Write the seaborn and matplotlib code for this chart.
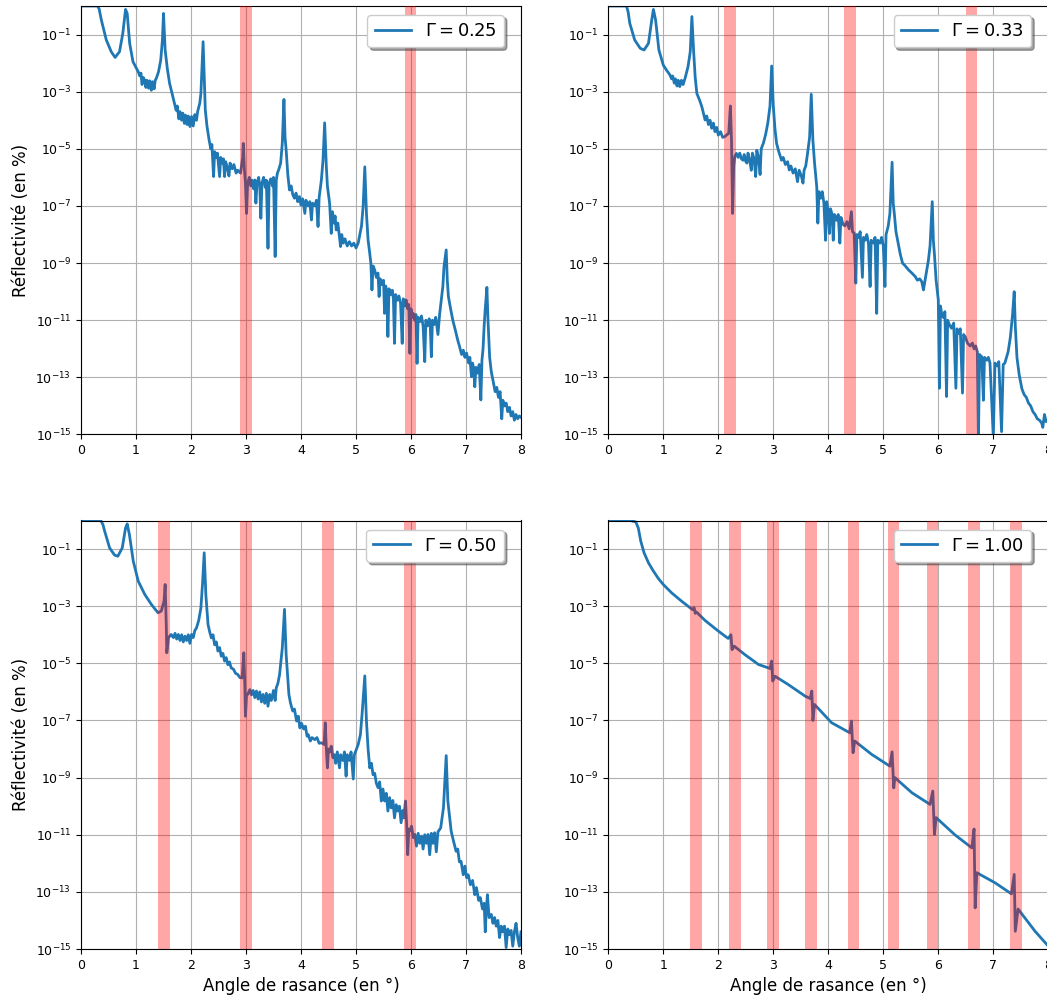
import numpy as np
import pandas as pd
import matplotlib
matplotlib.use("Agg")
import matplotlib.pyplot as plt
import seaborn as sns
from matplotlib.ticker import NullLocator

# Reflectivity curves: (grazing angle in deg, log10 of reflectivity)
GAMMAS = [0.25, 0.33, 0.50, 1.00]

CURVE_025 = [
    (0.00, 0.0), (0.30, 0.0), (0.33, -0.1), (0.37, -0.49), (0.46, -1.19), (0.55, -1.6),
    (0.62, -1.8), (0.70, -1.6), (0.76, -0.96), (0.81, -0.12), (0.84, -0.26), (0.885, -1.31),
    (0.945, -1.95), (1.00, -2.15), (1.04, -2.3), (1.07, -2.45), (1.09, -2.35), (1.11, -2.75),
    (1.13, -2.5), (1.16, -2.6), (1.18, -2.85), (1.20, -2.6), (1.23, -2.88), (1.25, -2.62),
    (1.28, -2.95), (1.30, -2.65), (1.33, -2.9), (1.35, -2.6), (1.37, -2.53), (1.41, -2.3),
    (1.45, -1.89), (1.48, -1.2), (1.50, -0.26), (1.53, -1.54), (1.57, -2.2), (1.61, -2.7),
    (1.66, -3.1), (1.70, -3.41), (1.73, -3.65), (1.75, -3.5), (1.78, -3.95), (1.80, -3.7),
    (1.83, -4.0), (1.85, -3.75), (1.88, -4.11), (1.90, -3.82), (1.93, -4.15), (1.95, -3.85),
    (1.98, -4.22), (2.01, -3.87), (2.04, -4.2), (2.07, -3.8), (2.10, -4.0), (2.12, -3.7),
    (2.16, -3.4), (2.18, -3.06), (2.22, -1.25), (2.26, -3.64), (2.29, -4.2), (2.31, -4.46),
    (2.33, -4.7), (2.36, -5.0), (2.38, -4.85), (2.41, -5.97), (2.43, -5.1), (2.46, -5.3),
    (2.48, -5.15), (2.52, -5.97), (2.54, -5.3), (2.57, -5.5), (2.59, -5.35), (2.61, -5.97),
    (2.63, -5.45), (2.66, -5.65), (2.69, -5.95), (2.71, -5.5), (2.75, -5.7), (2.78, -5.55),
    (2.82, -5.85), (2.85, -5.75), (2.90, -5.85), (2.94, -5.3), (2.95, -4.81), (2.97, -5.7),
    (2.99, -6.2), (3.01, -7.26), (3.03, -6.2), (3.06, -6.0), (3.09, -6.3), (3.11, -6.1),
    (3.14, -6.4), (3.16, -6.09), (3.18, -6.9), (3.20, -6.2), (3.23, -6.0), (3.25, -6.3),
    (3.27, -7.43), (3.29, -6.2), (3.32, -6.0), (3.35, -6.35), (3.37, -6.1), (3.40, -8.48),
    (3.42, -6.2), (3.45, -6.05), (3.48, -6.3), (3.50, -6.0), (3.53, -8.77), (3.55, -6.1),
    (3.57, -5.86), (3.60, -5.7), (3.63, -5.5), (3.66, -4.8), (3.69, -3.27), (3.71, -4.6),
    (3.73, -5.04), (3.76, -5.9), (3.79, -6.44), (3.82, -6.3), (3.85, -6.6), (3.88, -6.73),
    (3.91, -6.55), (3.94, -6.85), (3.97, -6.67), (4.00, -6.97), (4.03, -6.75), (4.07, -7.26),
    (4.09, -6.8), (4.13, -7.0), (4.16, -6.85), (4.19, -7.49), (4.21, -6.9), (4.25, -7.0),
    (4.28, -6.8), (4.31, -7.72), (4.33, -6.7), (4.37, -6.1), (4.40, -5.4), (4.43, -4.09),
    (4.46, -5.6), (4.48, -6.3), (4.52, -6.9), (4.55, -7.96), (4.57, -7.2), (4.60, -7.6),
    (4.62, -7.35), (4.64, -7.84), (4.67, -7.6), (4.70, -8.1), (4.72, -8.42), (4.74, -8.0),
    (4.77, -8.3), (4.80, -8.15), (4.84, -8.4), (4.88, -8.25), (4.92, -8.4), (4.96, -8.3),
    (5.00, -8.47), (5.04, -8.3), (5.07, -8.0), (5.10, -7.7), (5.13, -7.0), (5.16, -5.63),
    (5.19, -7.26), (5.22, -8.2), (5.25, -8.66), (5.27, -9.0), (5.29, -9.94), (5.31, -9.1),
    (5.34, -9.24), (5.37, -9.5), (5.40, -9.35), (5.42, -10.17), (5.44, -9.55), (5.47, -9.75),
    (5.50, -9.6), (5.52, -10.76), (5.54, -9.8), (5.56, -10.0), (5.58, -11.57), (5.60, -9.9),
    (5.63, -10.1), (5.66, -9.95), (5.68, -10.25), (5.70, -11.81), (5.72, -10.1), (5.75, -10.3),
    (5.78, -10.15), (5.81, -10.4), (5.84, -11.81), (5.86, -10.25), (5.89, -10.5), (5.91, -10.29),
    (5.94, -10.6), (5.96, -10.45), (5.98, -12.16), (6.00, -10.6), (6.02, -10.9), (6.04, -10.76),
    (6.07, -11.0), (6.09, -10.8), (6.11, -12.51), (6.13, -10.9), (6.16, -11.05), (6.19, -10.85),
    (6.22, -11.2), (6.25, -12.45), (6.27, -11.0), (6.30, -11.2), (6.33, -10.95), (6.35, -11.2),
    (6.37, -12.28), (6.39, -11.0), (6.42, -11.15), (6.45, -10.9), (6.47, -11.2), (6.49, -11.5),
    (6.52, -10.8), (6.55, -10.3), (6.58, -9.8), (6.60, -9.12), (6.64, -8.54), (6.66, -9.6),
    (6.68, -10.17), (6.72, -10.6), (6.76, -11.0), (6.80, -11.3), (6.85, -11.7), (6.88, -11.9),
    (6.92, -12.2), (6.95, -12.05), (6.98, -12.3), (7.01, -12.15), (7.05, -12.5), (7.07, -12.3),
    (7.10, -12.98), (7.12, -12.5), (7.14, -12.7), (7.16, -13.33), (7.18, -12.65), (7.21, -12.85),
    (7.24, -12.55), (7.27, -13.79), (7.29, -12.4), (7.31, -12.0), (7.33, -11.2), (7.35, -10.6),
    (7.38, -9.85), (7.40, -11.0), (7.43, -12.3), (7.46, -12.8), (7.50, -13.2), (7.53, -13.5),
    (7.56, -13.35), (7.59, -13.7), (7.62, -13.5), (7.65, -14.45), (7.67, -13.8), (7.70, -14.0),
    (7.73, -13.9), (7.76, -14.2), (7.79, -14.05), (7.82, -14.35), (7.85, -14.2), (7.88, -14.5),
    (7.91, -14.3), (7.94, -14.45), (7.97, -14.35), (8.00, -14.4),
]

CURVE_033 = [
    (0.00, 0.0), (0.33, 0.0), (0.36, -0.2), (0.39, -0.6), (0.48, -1.19), (0.58, -1.48),
    (0.65, -1.54), (0.73, -1.31), (0.79, -0.49), (0.82, -0.12), (0.86, -0.49), (0.92, -1.54),
    (1.00, -2.07), (1.06, -2.25), (1.12, -2.41), (1.15, -2.55), (1.17, -2.45), (1.20, -2.7),
    (1.22, -2.55), (1.25, -2.8), (1.27, -2.6), (1.30, -2.82), (1.33, -2.6), (1.36, -2.75),
    (1.40, -2.5), (1.45, -2.12), (1.49, -1.6), (1.52, -0.37), (1.55, -1.54), (1.58, -2.5),
    (1.61, -3.06), (1.66, -3.3), (1.70, -3.52), (1.73, -3.75), (1.76, -3.99), (1.79, -3.85),
    (1.82, -4.15), (1.85, -4.0), (1.88, -4.28), (1.91, -4.1), (1.94, -4.4), (1.97, -4.25),
    (2.00, -4.52), (2.04, -4.4), (2.08, -4.6), (2.12, -4.57), (2.16, -4.5), (2.19, -4.46),
    (2.22, -3.5), (2.24, -4.7), (2.26, -7.26), (2.28, -5.6), (2.30, -5.27), (2.33, -5.16),
    (2.36, -5.3), (2.39, -5.15), (2.42, -5.35), (2.45, -5.4), (2.47, -5.2), (2.50, -5.45),
    (2.52, -5.5), (2.54, -5.15), (2.57, -5.4), (2.60, -5.75), (2.62, -5.15), (2.65, -5.35),
    (2.68, -5.97), (2.70, -5.05), (2.73, -5.3), (2.76, -5.9), (2.78, -5.0), (2.82, -4.8),
    (2.86, -4.5), (2.90, -4.1), (2.94, -3.5), (2.97, -2.1), (3.00, -3.5), (3.03, -4.3),
    (3.06, -4.81), (3.10, -5.1), (3.15, -5.4), (3.18, -5.3), (3.22, -5.55), (3.26, -5.45),
    (3.29, -5.74), (3.32, -5.6), (3.36, -5.85), (3.40, -5.7), (3.44, -6.15), (3.47, -5.75),
    (3.51, -5.95), (3.54, -6.2), (3.56, -5.75), (3.59, -5.6), (3.62, -5.2), (3.66, -4.6),
    (3.69, -3.09), (3.72, -4.7), (3.75, -5.5), (3.79, -6.33), (3.81, -7.6), (3.83, -6.5),
    (3.86, -6.73), (3.89, -6.5), (3.92, -6.9), (3.95, -8.2), (3.97, -6.85), (4.00, -7.2),
    (4.02, -7.96), (4.04, -7.1), (4.07, -7.3), (4.09, -8.2), (4.11, -7.3), (4.15, -7.5),
    (4.18, -7.3), (4.21, -8.3), (4.23, -7.4), (4.27, -7.65), (4.30, -7.7), (4.34, -7.55),
    (4.38, -7.8), (4.42, -7.2), (4.44, -7.9), (4.47, -7.95), (4.50, -9.7), (4.52, -8.0),
    (4.55, -8.1), (4.58, -7.9), (4.62, -9.5), (4.64, -8.1), (4.67, -8.2), (4.70, -8.0),
    (4.73, -8.3), (4.76, -9.82), (4.78, -8.2), (4.82, -8.3), (4.85, -8.1), (4.88, -10.76),
    (4.90, -8.2), (4.94, -8.3), (4.97, -8.1), (5.00, -8.4), (5.03, -9.82), (5.05, -8.0),
    (5.09, -7.7), (5.12, -7.26), (5.16, -5.47), (5.18, -6.9), (5.20, -7.26), (5.23, -7.9),
    (5.27, -8.3), (5.31, -8.7), (5.35, -9.0), (5.40, -9.1), (5.46, -9.24), (5.52, -9.35),
    (5.58, -9.47), (5.62, -9.6), (5.66, -9.55), (5.70, -9.65), (5.73, -9.94), (5.76, -9.6),
    (5.79, -9.24), (5.82, -8.9), (5.85, -8.4), (5.89, -6.85), (5.91, -8.2), (5.93, -8.7),
    (5.96, -9.6), (6.00, -10.29), (6.02, -13.38), (6.04, -10.5), (6.06, -10.76), (6.09, -10.9),
    (6.12, -10.7), (6.15, -13.67), (6.17, -11.0), (6.20, -11.15), (6.24, -11.28), (6.28, -11.1),
    (6.32, -13.38), (6.34, -11.3), (6.37, -11.46), (6.40, -11.3), (6.44, -13.55), (6.46, -11.5),
    (6.49, -11.58), (6.53, -11.8), (6.58, -11.9), (6.62, -11.8), (6.65, -12.0), (6.68, -11.9),
    (6.71, -12.1), (6.73, -15.2), (6.75, -12.2), (6.79, -12.28), (6.82, -13.8), (6.84, -12.3),
    (6.88, -12.4), (6.91, -12.3), (6.94, -12.5), (7.00, -15.1), (7.03, -12.5), (7.07, -12.6),
    (7.10, -12.45), (7.15, -14.9), (7.18, -12.55), (7.21, -12.5), (7.24, -12.3), (7.27, -12.1),
    (7.31, -11.6), (7.35, -10.8), (7.38, -10.0), (7.40, -11.2), (7.43, -12.3), (7.47, -12.9),
    (7.52, -13.4), (7.56, -13.6), (7.60, -13.7), (7.64, -13.9), (7.68, -14.0), (7.72, -14.2),
    (7.76, -14.3), (7.80, -14.45), (7.84, -14.5), (7.88, -14.6), (7.90, -14.75), (7.93, -14.3),
    (7.96, -14.55), (8.00, -14.5),
]

CURVE_050 = [
    (0.00, 0.0), (0.36, 0.0), (0.40, -0.15), (0.43, -0.37), (0.52, -0.96), (0.61, -1.21),
    (0.67, -1.25), (0.75, -0.96), (0.81, -0.26), (0.84, -0.12), (0.88, -0.49), (0.95, -1.42),
    (1.04, -2.12), (1.16, -2.59), (1.28, -2.94), (1.40, -3.23), (1.46, -3.17), (1.51, -2.82),
    (1.53, -2.24), (1.55, -3.64), (1.56, -4.63), (1.59, -4.1), (1.64, -3.99), (1.68, -4.1),
    (1.71, -3.95), (1.74, -4.15), (1.77, -3.99), (1.80, -4.2), (1.83, -4.0), (1.86, -4.25),
    (1.89, -4.05), (1.92, -4.2), (1.95, -4.0), (1.98, -4.3), (2.01, -3.99), (2.04, -4.1),
    (2.07, -3.85), (2.10, -3.76), (2.14, -3.5), (2.18, -3.06), (2.21, -2.2), (2.24, -1.13),
    (2.27, -2.6), (2.31, -3.64), (2.34, -3.9), (2.37, -4.11), (2.40, -4.0), (2.43, -4.35),
    (2.46, -4.25), (2.49, -4.57), (2.52, -4.45), (2.55, -4.75), (2.58, -4.65), (2.61, -4.92),
    (2.64, -4.8), (2.67, -5.05), (2.70, -4.95), (2.73, -5.16), (2.77, -5.2), (2.81, -5.35),
    (2.85, -5.39), (2.89, -5.5), (2.93, -5.51), (2.96, -4.63), (2.98, -5.86), (2.99, -6.85),
    (3.01, -6.1), (3.03, -6.09), (3.07, -5.92), (3.10, -6.1), (3.13, -5.95), (3.16, -6.2),
    (3.19, -5.97), (3.22, -6.25), (3.25, -6.0), (3.28, -6.35), (3.31, -6.09), (3.34, -6.4),
    (3.37, -6.05), (3.40, -6.5), (3.43, -6.09), (3.46, -6.3), (3.50, -5.95), (3.53, -6.3),
    (3.55, -5.86), (3.58, -5.7), (3.61, -5.4), (3.66, -4.46), (3.70, -3.11), (3.73, -4.69),
    (3.78, -6.09), (3.81, -6.4), (3.85, -6.67), (3.88, -6.6), (3.92, -7.02), (3.95, -6.85),
    (3.98, -7.26), (4.01, -7.1), (4.05, -7.3), (4.08, -7.2), (4.11, -7.55), (4.13, -7.49),
    (4.17, -7.72), (4.20, -7.6), (4.25, -7.67), (4.29, -7.6), (4.33, -7.8), (4.37, -7.78),
    (4.42, -7.84), (4.44, -7.08), (4.46, -7.96), (4.48, -8.66), (4.50, -8.0), (4.52, -8.1),
    (4.55, -7.9), (4.58, -8.3), (4.61, -8.2), (4.63, -8.5), (4.66, -8.1), (4.70, -8.66),
    (4.72, -8.2), (4.76, -8.4), (4.79, -8.1), (4.82, -8.95), (4.84, -8.2), (4.88, -8.4),
    (4.91, -8.1), (4.95, -9.05), (4.97, -8.2), (5.01, -8.0), (5.04, -7.84), (5.08, -7.5),
    (5.11, -6.79), (5.16, -5.44), (5.19, -7.02), (5.22, -8.0), (5.25, -8.66), (5.28, -8.5),
    (5.31, -8.9), (5.34, -8.85), (5.37, -9.2), (5.40, -9.35), (5.43, -9.15), (5.46, -9.82),
    (5.49, -9.4), (5.52, -9.82), (5.55, -9.55), (5.58, -10.17), (5.61, -9.7), (5.64, -10.06),
    (5.67, -9.8), (5.70, -10.41), (5.73, -9.95), (5.76, -10.17), (5.79, -10.0), (5.82, -10.58),
    (5.85, -10.15), (5.87, -10.41), (5.90, -9.82), (5.92, -10.6), (5.94, -11.7), (5.96, -10.8),
    (5.98, -10.87), (6.01, -10.7), (6.04, -11.1), (6.07, -10.99), (6.10, -11.4), (6.13, -10.95),
    (6.16, -11.3), (6.19, -11.05), (6.22, -11.5), (6.25, -11.0), (6.28, -11.3), (6.31, -10.99),
    (6.34, -11.7), (6.37, -10.95), (6.40, -11.3), (6.43, -10.93), (6.46, -11.6), (6.49, -10.9),
    (6.54, -10.76), (6.59, -10.06), (6.64, -8.23), (6.67, -9.82), (6.73, -10.87), (6.77, -11.2),
    (6.82, -11.58), (6.85, -11.5), (6.88, -11.95), (6.91, -11.93), (6.95, -12.4), (6.98, -12.1),
    (7.01, -12.5), (7.04, -12.4), (7.08, -12.75), (7.12, -12.6), (7.16, -13.1), (7.19, -12.85),
    (7.23, -13.3), (7.26, -13.2), (7.30, -13.6), (7.33, -13.4), (7.35, -14.4), (7.37, -13.6),
    (7.39, -13.1), (7.42, -13.9), (7.46, -13.79), (7.49, -14.1), (7.52, -13.9), (7.55, -14.2),
    (7.58, -14.0), (7.61, -14.6), (7.64, -14.2), (7.67, -14.4), (7.70, -14.2), (7.73, -14.95),
    (7.76, -14.3), (7.79, -14.5), (7.82, -14.35), (7.85, -14.9), (7.88, -14.4), (7.91, -14.1),
    (7.94, -14.6), (7.97, -14.9), (8.00, -14.4),
]

CURVE_100 = [
    (0.00, 0.0), (0.40, 0.0), (0.50, -0.05), (0.545, -0.26), (0.59, -0.72), (0.65, -1.13),
    (0.73, -1.48), (0.82, -1.77), (0.91, -2.03), (1.00, -2.24), (1.15, -2.53), (1.33, -2.82),
    (1.53, -3.12), (1.56, -3.05), (1.58, -3.25), (1.60, -3.2), (1.76, -3.5), (2.00, -3.87),
    (2.18, -4.13), (2.23, -4.0), (2.25, -4.52), (2.29, -4.4), (2.48, -4.69), (2.73, -5.04),
    (2.94, -5.18), (2.97, -4.92), (2.99, -5.62), (3.03, -5.45), (3.27, -5.74), (3.58, -6.15),
    (3.67, -6.23), (3.70, -5.97), (3.72, -7.0), (3.75, -6.44), (4.06, -7.08), (4.39, -7.43),
    (4.42, -7.02), (4.45, -8.13), (4.48, -7.72), (4.79, -8.19), (5.12, -8.6), (5.16, -8.1),
    (5.19, -9.36), (5.21, -9.0), (5.52, -9.53), (5.85, -9.94), (5.90, -9.47), (5.93, -10.99),
    (5.96, -10.4), (6.30, -11.0), (6.61, -11.46), (6.65, -10.8), (6.67, -13.56), (6.70, -12.33),
    (7.03, -12.68), (7.33, -13.07), (7.38, -12.39), (7.40, -14.38), (7.45, -13.6), (7.76, -14.38),
    (8.00, -14.9),
]

# centres of the highlighted angle windows (deg)
BANDS_025 = [3.00, 5.99]
BANDS_033 = [2.21, 4.39, 6.60]
BANDS_050 = [1.505, 3.00, 4.49, 5.98]
BANDS_100 = [1.59, 2.30, 2.99, 3.69, 4.46, 5.185, 5.895, 6.65, 7.41]
BAND_WIDTH = 0.21

curves = [CURVE_025, CURVE_033, CURVE_050, CURVE_100]
bands = [BANDS_025, BANDS_033, BANDS_050, BANDS_100]

# axes boxes in figure fraction (left, bottom, width, height)
W, H = 1047, 996
boxes = [
    (81 / W, 1 - 434.5 / H, 440 / W, 428.5 / H),
    (608.3 / W, 1 - 434.5 / H, 440 / W, 428.5 / H),
    (81 / W, 1 - 949 / H, 440 / W, 428.5 / H),
    (608.3 / W, 1 - 949 / H, 440 / W, 428.5 / H),
]

fig = plt.figure(figsize=(W / 100, H / 100), dpi=100)

for i, (gamma, curve, centres, box) in enumerate(zip(GAMMAS, curves, bands, boxes)):
    ax = fig.add_axes(box)
    df = pd.DataFrame(curve, columns=["angle", "log_r"])
    df["refl"] = 10.0 ** df["log_r"]

    ax.set_yscale("log")
    sns.lineplot(data=df, x="angle", y="refl", ax=ax, color="#1f77b4", lw=2.0,
                 estimator=None, sort=False, label=rf"$\Gamma = {gamma:.2f}$")

    for c in centres:
        ax.axvspan(c - BAND_WIDTH / 2, c + BAND_WIDTH / 2, color="red", alpha=0.35,
                   lw=0, zorder=3)

    ax.set_xlim(0, 8)
    ax.set_ylim(1e-15, 1)
    ax.set_xticks(range(9))
    ax.set_yticks([10.0 ** e for e in range(-15, 0, 2)])
    ax.yaxis.set_minor_locator(NullLocator())
    ax.tick_params(labelsize=9)
    ax.grid(True, color="#b0b0b0", lw=0.8)

    ax.set_xlabel("Angle de rasance (en °)" if i >= 2 else "", fontsize=12)
    ax.set_ylabel("Réflectivité (en %)" if i % 2 == 0 else "", fontsize=12)

    leg = ax.legend(loc="upper right", bbox_to_anchor=(0.982, 1.0), shadow=True,
                    fontsize=13, framealpha=1.0)
    leg.set_zorder(5)

fig.savefig("out.png", dpi=100)
